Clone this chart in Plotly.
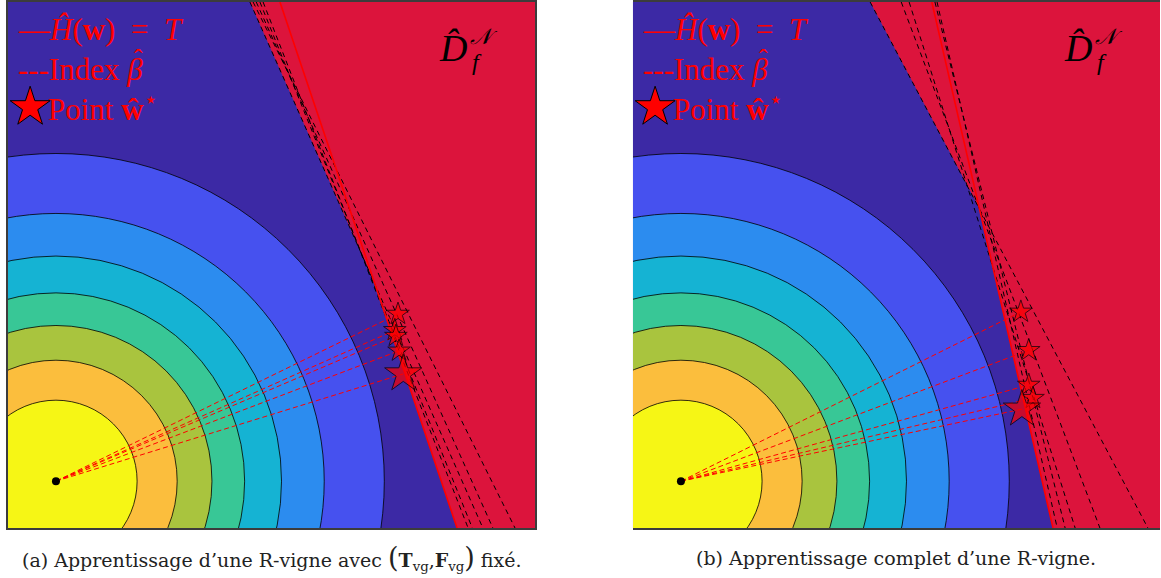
import plotly.graph_objects as go

# Niveaux de la densité : rayons des contours (unités d'axe) et couleurs
rayons = [6.23, 5.09, 4.28, 3.58, 2.96, 2.30, 1.54]
couleurs = ['#4651ef', '#2c8cef', '#15b3d3', '#38c796', '#a9c43e', '#fbbe3d', '#f6f615']
couleur_fond = '#3c29a5'
couleur_region = '#dc143c'
centre_x = 0.91
centre_y = 0.89

# (a) R-vigne avec (T_vg, F_vg) fixé
a_frontiere_x = [4.59, 6.98, 8.52]
a_frontiere_y = [10.0, 4.60, 0.0]
a_H_x = [5.16, 8.52]
a_H_y = [10.0, 0.0]
a_etoiles_x = [7.40, 7.34, 7.36, 7.42, 7.50]
a_etoiles_y = [4.07, 3.76, 3.65, 3.37, 2.93]
a_etoiles_taille = [17, 17, 17, 17, 28]
a_index_haut = [4.59, 4.65, 4.71, 4.78, 4.84]
a_index_bas = [9.01, 9.62, 9.20, 8.81, 8.73]

# (b) apprentissage complet
b_frontiere_x = [4.50, 6.58, 7.97]
b_frontiere_y = [10.0, 6.07, 0.0]
b_H_x = [5.67, 7.97]
b_H_y = [10.0, 0.0]
b_etoiles_x = [7.36, 7.51, 7.51, 7.59, 7.38]
b_etoiles_y = [4.11, 3.38, 2.72, 2.47, 2.26]
b_etoiles_taille = [17, 17, 17, 17, 28]
b_index_haut = [4.50, 5.09, 5.24, 5.73, 5.77]
b_index_bas = [9.77, 8.86, 8.39, 8.20, 8.05]

legendes = ['(a) Apprentissage d’une R-vigne avec '
            '<span style="font-size:27px">(</span><b>T</b><sub>vg</sub>,'
            '<b>F</b><sub>vg</sub><span style="font-size:27px">)</span> fixé.',
            '(b) Apprentissage complet d’une R-vigne.']

panneaux = [
    ('', a_frontiere_x, a_frontiere_y, a_H_x, a_H_y, a_etoiles_x, a_etoiles_y,
     a_etoiles_taille, a_index_haut, a_index_bas),
    ('2', b_frontiere_x, b_frontiere_y, b_H_x, b_H_y, b_etoiles_x, b_etoiles_y,
     b_etoiles_taille, b_index_haut, b_index_bas),
]

fig = go.Figure()
serif = 'Liberation Serif'

for k, (s, fx, fy, hx, hy, ex, ey, et, ih, ib) in enumerate(panneaux):
    xa, ya = 'x' + s, 'y' + s
    # contours circulaires
    for r, c in zip(rayons, couleurs):
        fig.add_shape(type='circle', xref=xa, yref=ya,
                      x0=centre_x - r, x1=centre_x + r,
                      y0=centre_y - r, y1=centre_y + r,
                      fillcolor=c, line=dict(color='black', width=0.8),
                      layer='below')
    # région D_f^N
    fig.add_trace(go.Scatter(x=fx + [10.5, 10.5], y=fy + [0.0, 10.0],
                             fill='toself', fillcolor=couleur_region,
                             mode='lines', line=dict(width=0),
                             xaxis=xa, yaxis=ya, hoverinfo='skip'))
    # index beta
    lx, ly = [], []
    for h, b in zip(ih, ib):
        lx += [h, b, None]
        ly += [10.0, 0.0, None]
    fig.add_trace(go.Scatter(x=lx, y=ly, mode='lines',
                             line=dict(color='black', width=1, dash='5px,4px'),
                             xaxis=xa, yaxis=ya, hoverinfo='skip'))
    # H(w) = T
    fig.add_trace(go.Scatter(x=hx, y=hy, mode='lines',
                             line=dict(color='red', width=1.6),
                             xaxis=xa, yaxis=ya, hoverinfo='skip'))
    # rayons du centre vers les points
    rx, ry = [], []
    for x, y in zip(ex, ey):
        rx += [centre_x, x, None]
        ry += [centre_y, y, None]
    fig.add_trace(go.Scatter(x=rx, y=ry, mode='lines',
                             line=dict(color='red', width=1, dash='5px,3px'),
                             xaxis=xa, yaxis=ya, hoverinfo='skip'))
    fig.add_trace(go.Scatter(x=[centre_x], y=[centre_y], mode='markers',
                             marker=dict(color='black', size=8),
                             xaxis=xa, yaxis=ya, hoverinfo='skip'))
    fig.add_trace(go.Scatter(x=ex, y=ey, mode='markers',
                             marker=dict(symbol='star', size=et, color='red',
                                         line=dict(color='black', width=1)),
                             xaxis=xa, yaxis=ya, hoverinfo='skip'))
    # étoile de la légende
    fig.add_trace(go.Scatter(x=[0.42], y=[8.0], mode='markers',
                             marker=dict(symbol='star', size=30, color='red',
                                         line=dict(color='black', width=1)),
                             xaxis=xa, yaxis=ya, hoverinfo='skip'))

    xd, yd = xa + ' domain', ya + ' domain'
    police = dict(family=serif, size=31, color='red')
    fig.add_annotation(xref=xd, yref=yd, x=0.015, y=0.947, xanchor='left',
                       yanchor='middle', showarrow=False, font=police,
                       text='—<i>Ĥ</i>(<b>w</b>)\u2002=\u2002<i>T</i>')
    fig.add_annotation(xref=xd, yref=yd, x=0.015, y=0.871, xanchor='left',
                       yanchor='middle', showarrow=False, font=police,
                       text='---Index <i>β</i>')
    fig.add_annotation(xref=xd, yref=yd, x=0.247, y=0.893, xanchor='center',
                       yanchor='middle', showarrow=False,
                       font=dict(family=serif, size=26, color='red'),
                       text='ˆ')
    fig.add_annotation(xref=xd, yref=yd, x=0.072, y=0.800, xanchor='left',
                       yanchor='middle', showarrow=False, font=police,
                       text='Point <b>ŵ</b><sup>⋆</sup>')
    # étiquette D_f^N
    fig.add_annotation(xref=xd, yref=yd, x=0.844, y=0.912, xanchor='center',
                       yanchor='middle', showarrow=False,
                       font=dict(family=serif, size=38, color='black'),
                       text='<i>D̂</i>')
    fig.add_annotation(xref=xd, yref=yd, x=0.872, y=0.935, xanchor='left',
                       yanchor='middle', showarrow=False,
                       font=dict(family=serif, size=22, color='black'),
                       text='<i>𝒩</i>')
    fig.add_annotation(xref=xd, yref=yd, x=0.876, y=0.885, xanchor='left',
                       yanchor='middle', showarrow=False,
                       font=dict(family=serif, size=24, color='black'),
                       text='<i>f</i>')
    # sous-titre
    fig.add_annotation(xref=xd, yref='paper', x=0.5, y=-0.057,
                       xanchor='center', yanchor='middle', showarrow=False,
                       font=dict(family='DejaVu Serif', size=19, color='#222'),
                       text=legendes[k])

axe = dict(range=[0, 10], showgrid=False, zeroline=False, showticklabels=False,
           ticks='', showline=True, linecolor='#3c3c3c', linewidth=1.5,
           mirror=True, fixedrange=True)
fig.update_layout(
    width=1161, height=578,
    margin=dict(l=8, r=1, t=2, b=50),
    paper_bgcolor='white', plot_bgcolor=couleur_fond,
    showlegend=False,
    xaxis=dict(axe, domain=[0, 0.4575]),
    yaxis=dict(axe, domain=[0, 1]),
    xaxis2=dict(axe, domain=[0.5425, 1]),
    yaxis2=dict(axe, domain=[0, 1]),
)

fig.write_html("out.html", config={'displayModeBar': False},
               post_script="document.body.style.margin='0';")
